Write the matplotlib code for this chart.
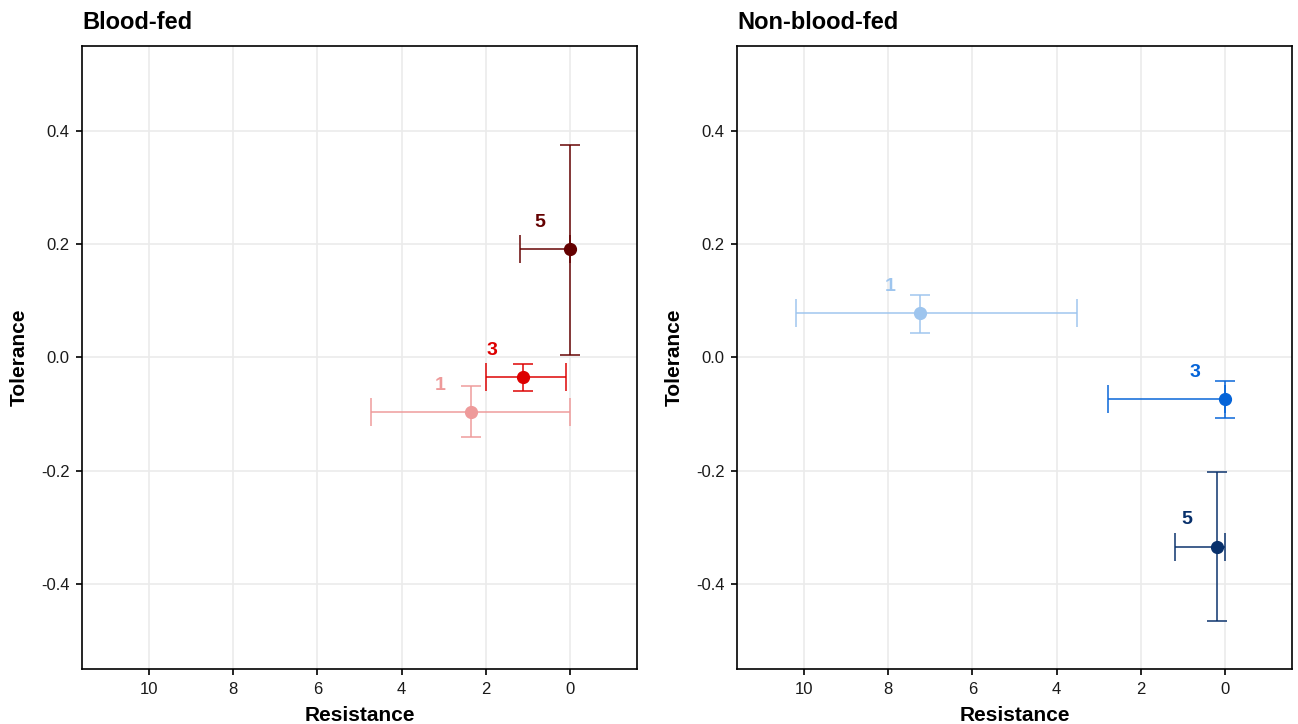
import matplotlib.pyplot as plt

plt.rcParams['font.family'] = ['Liberation Sans', 'DejaVu Sans']
plt.rcParams['axes.unicode_minus'] = False

# Data
groups = ['1', '3', '5']

# Blood-fed
bf_res = [2.35, 1.12, 0.0]
bf_res_lo = [0.0, 0.1, 0.0]
bf_res_hi = [4.73, 2.0, 1.19]
bf_tol = [-0.097, -0.035, 0.191]
bf_tol_lo = [-0.141, -0.060, 0.005]
bf_tol_hi = [-0.051, -0.012, 0.375]
bf_colors = ['#EE9A9A', '#DD0000', '#640000']

# Non-blood-fed
nbf_res = [7.24, 0.0, 0.19]
nbf_res_lo = [3.52, 0.0, 0.0]
nbf_res_hi = [10.19, 2.78, 1.19]
nbf_tol = [0.078, -0.074, -0.334]
nbf_tol_lo = [0.044, -0.106, -0.465]
nbf_tol_hi = [0.111, -0.042, -0.203]
nbf_colors = ['#9EC5EE', '#0564D8', '#08306B']

fig = plt.figure(figsize=(12.98, 7.24), dpi=100)
W, H = 1298, 724
ax1 = fig.add_axes([82 / W, (H - 669) / H, 555 / W, 623 / H])
ax2 = fig.add_axes([737 / W, (H - 669) / H, 555 / W, 623 / H])


def panel(ax, title, res, rlo, rhi, tol, tlo, thi, cols):
    for i, g in enumerate(groups):
        c = cols[i]
        ax.errorbar(res[i], tol[i], xerr=[[res[i] - rlo[i]], [rhi[i] - res[i]]],
                    fmt='none', ecolor=c, elinewidth=1.2, capsize=10, capthick=1.2,
                    alpha=0.9, zorder=3)
        ax.errorbar(res[i], tol[i], yerr=[[tol[i] - tlo[i]], [thi[i] - tol[i]]],
                    fmt='none', ecolor=c, elinewidth=1.2, capsize=7.5, capthick=1.2,
                    alpha=0.9, zorder=3)
        ax.plot(res[i], tol[i], 'o', color=c, markersize=8.5, zorder=4)
        ax.text(res[i] + 0.72, tol[i] + 0.048, g, color=c, fontsize=14,
                fontweight='bold', ha='center', va='center', zorder=5)
    ax.set_xlim(11.6, -1.6)
    ax.set_ylim(-0.55, 0.55)
    ax.set_xticks([10, 8, 6, 4, 2, 0])
    ax.set_yticks([-0.4, -0.2, 0.0, 0.2, 0.4])
    ax.set_yticklabels(['-0.4', '-0.2', '0.0', '0.2', '0.4'])
    ax.grid(True, color='#EBEBEB', linewidth=1.2, zorder=0)
    ax.set_axisbelow(True)
    for s in ax.spines.values():
        s.set_linewidth(1.2)
        s.set_color('black')
    ax.tick_params(direction='out', length=4, width=1.2, labelsize=12,
                   colors='black', labelcolor='#1a1a1a', pad=5)
    ax.set_xlabel('Resistance', fontsize=15, fontweight='bold', labelpad=7)
    ax.set_ylabel('Tolerance', fontsize=15, fontweight='bold', labelpad=9)
    ax.set_title(title, loc='left', fontsize=17, fontweight='bold', pad=12)


panel(ax1, 'Blood-fed', bf_res, bf_res_lo, bf_res_hi, bf_tol, bf_tol_lo, bf_tol_hi, bf_colors)
panel(ax2, 'Non-blood-fed', nbf_res, nbf_res_lo, nbf_res_hi, nbf_tol, nbf_tol_lo, nbf_tol_hi, nbf_colors)

fig.savefig('out.png', dpi=100)
